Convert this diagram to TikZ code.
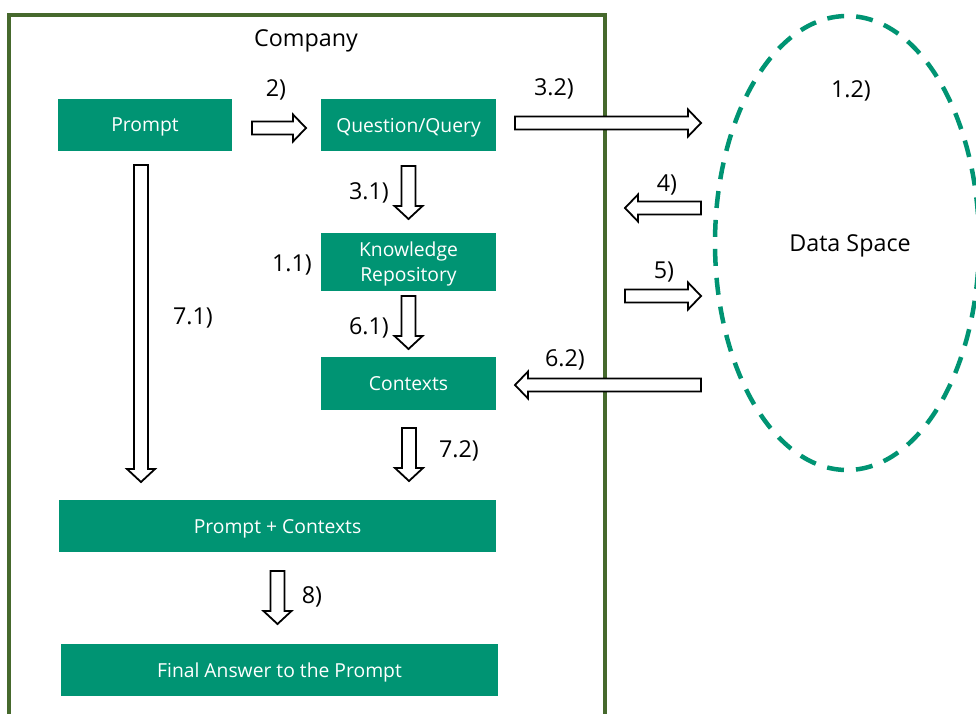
\documentclass[tikz,border=0pt]{standalone}
\usepackage{fontspec}
\setmainfont{Open Sans}
\usetikzlibrary{calc}

\definecolor{boxgreen}{RGB}{0,148,115}
\definecolor{framegreen}{RGB}{70,105,45}

% block arrows drawn from a start point to the tip
\newcommand\rightarrowblock[3]{% x1, x2, y
  \draw[blockarrow] (#1,#3-6.5) -- (#2-13,#3-6.5) -- (#2-13,#3-13.5) -- (#2,#3)
    -- (#2-13,#3+13.5) -- (#2-13,#3+6.5) -- (#1,#3+6.5) -- cycle;}
\newcommand\leftarrowblock[3]{% x1 (tail), x2 (tip), y
  \draw[blockarrow] (#1,#3-6.5) -- (#2+13,#3-6.5) -- (#2+13,#3-13.5) -- (#2,#3)
    -- (#2+13,#3+13.5) -- (#2+13,#3+6.5) -- (#1,#3+6.5) -- cycle;}
\newcommand\downarrowblock[3]{% x, y1 (tail), y2 (tip)
  \draw[blockarrow] (#1-7,#2) -- (#1-7,#3-13) -- (#1-14,#3-13) -- (#1,#3)
    -- (#1+14,#3-13) -- (#1+7,#3-13) -- (#1+7,#2) -- cycle;}

\begin{document}
\begin{tikzpicture}[x=1pt,y=-1pt,
  stepbox/.style={fill=boxgreen, text=white, inner sep=0pt, text depth=0pt,
    font=\fontsize{19.3}{25}\selectfont, align=center},
  steplabel/.style={inner sep=0pt, yshift=-2.5pt, font=\fontsize{23.3}{27}\selectfont},
  blockarrow/.style={draw=black, fill=white, line width=1.8pt, line join=miter},
  framebox/.style={draw=framegreen, line width=4pt},
  dataspace/.style={draw=boxgreen, line width=4.5pt, dash pattern=on 17pt off 12pt}]

\useasboundingbox (0,0) rectangle (976,713);
\clip (0,0) rectangle (976,713);
\fill[white] (0,0) rectangle (976,713);

% company frame (open at the bottom edge)
\draw[framebox] (8.5,720) -- (8.5,14.5) -- (605,14.5) -- (605,720);
\node[steplabel] (company) at (306,38) {Company};

% data space
\draw[dataspace] (847,243) ellipse [x radius=132, y radius=227];
\node[steplabel] (dataspace) at (850,243) {Data Space};

% process boxes
\node[stepbox, minimum width=174pt, minimum height=52pt] (prompt) at (145,125) {Prompt};
\node[stepbox, minimum width=175pt, minimum height=52pt] (query) at (408.5,125) {Question/Query};
\node[stepbox, minimum width=175pt, minimum height=58pt] (repo) at (408.5,262) {Knowledge\\Repository};
\node[stepbox, minimum width=175pt, minimum height=53pt] (contexts) at (408.5,383.5) {Contexts};
\node[stepbox, minimum width=437pt, minimum height=52pt] (combined) at (277.5,526) {Prompt + Contexts};
\node[stepbox, minimum width=437pt, minimum height=52pt] (answer) at (279.5,670) {Final Answer to the Prompt};

% block arrows
\rightarrowblock{252}{306}{128}
\rightarrowblock{515}{701}{123}
\leftarrowblock{701}{625}{208}
\rightarrowblock{625}{701}{296}
\leftarrowblock{701}{515}{385}
\downarrowblock{408.5}{166}{219}
\downarrowblock{408.5}{296}{349}
\downarrowblock{141}{165}{482}
\downarrowblock{409}{428}{481}
\downarrowblock{277.5}{571}{624}

% step labels
\node[steplabel] (l2) at (276,87) {2)};
\node[steplabel] (l32) at (554,86) {3.2)};
\node[steplabel] (l12) at (851,88) {1.2)};
\node[steplabel] (l31) at (369,190) {3.1)};
\node[steplabel] (l4) at (667,182) {4)};
\node[steplabel] (l11) at (292,263) {1.1)};
\node[steplabel] (l5) at (664,270) {5)};
\node[steplabel] (l71) at (193,316) {7.1)};
\node[steplabel] (l61) at (369,325) {6.1)};
\node[steplabel] (l62) at (565,357) {6.2)};
\node[steplabel] (l72) at (459,448) {7.2)};
\node[steplabel] (l8) at (312,594) {8)};
\end{tikzpicture}
\end{document}
